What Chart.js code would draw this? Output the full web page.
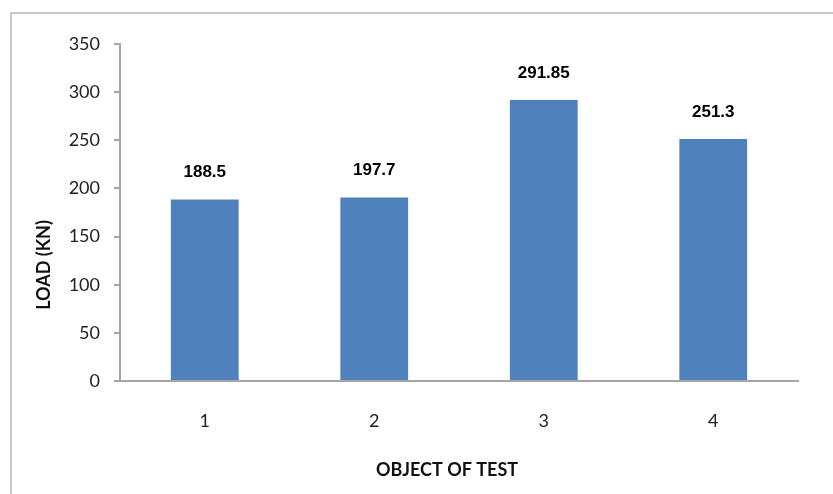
<!DOCTYPE html>
<html>
<head>
<meta charset="utf-8">
<script src="https://cdn.jsdelivr.net/npm/chart.js@4/dist/chart.umd.min.js"></script>
<style>
  html, body { margin: 0; padding: 0; background: #fff; overflow: hidden; }
  #wrap { position: relative; width: 833px; height: 494px; }
  #frame { position: absolute; left: 10px; top: 12px; width: 900px; height: 600px;
           border-left: 2px solid #c8c8c8; border-top: 2px solid #c8c8c8; }
  canvas { position: absolute; left: 0; top: 0; }
</style>
</head>
<body>
<div id="wrap">
  <div id="frame"></div>
  <canvas id="c" width="833" height="494"></canvas>
</div>
<script>
const categories = ["1", "2", "3", "4"];
const loadValues = [188.5, 190.5, 291.85, 251.3];
const valueLabels = ["188.5", "197.7", "291.85", "251.3"];
const yTicks = [0, 50, 100, 150, 200, 250, 300, 350];
const xTitle = "OBJECT OF TEST";
const yTitle = "LOAD (KN)";

const barLabelPlugin = {
  id: 'barLabels',
  afterDatasetsDraw(chart) {
    const ctx = chart.ctx;
    const meta = chart.getDatasetMeta(0);
    ctx.save();
    ctx.font = 'bold 17px "Liberation Sans", Arial, sans-serif';
    ctx.fillStyle = '#000';
    ctx.textAlign = 'center';
    ctx.textBaseline = 'middle';
    meta.data.forEach((bar, i) => {
      ctx.fillText(valueLabels[i], bar.x, bar.y - 27);
    });
    ctx.restore();
  }
};

const axisTitlePlugin = {
  id: 'axisTitles',
  afterDraw(chart) {
    const ctx = chart.ctx;
    ctx.save();
    ctx.fillStyle = '#111';
    ctx.font = 'bold 18px Lato, "Open Sans", sans-serif';
    ctx.textAlign = 'center';
    ctx.textBaseline = 'middle';
    ctx.fillText(xTitle, 447, 470);
    ctx.translate(44, 265);
    ctx.rotate(-Math.PI / 2);
    ctx.fillText(yTitle, 0, 0);
    ctx.restore();
  }
};

new Chart(document.getElementById('c'), {
  type: 'bar',
  data: {
    labels: categories,
    datasets: [{
      data: loadValues,
      backgroundColor: '#4f81bd',
      borderWidth: 0,
      categoryPercentage: 1.0,
      barPercentage: 0.4
    }]
  },
  options: {
    responsive: false,
    animation: false,
    devicePixelRatio: 1,
    layout: { padding: { top: 44, right: 35, left: 0, bottom: 0 } },
    plugins: { legend: { display: false }, tooltip: { enabled: false } },
    scales: {
      x: {
        grid: { display: true, drawOnChartArea: false, drawTicks: false },
        border: { display: true, color: '#a6a6a6', width: 2 },
        ticks: { color: '#222', font: { family: 'Lato', size: 18 }, padding: 29 },
        afterFit(scale) { scale.height = 113; }
      },
      y: {
        min: 0, max: 350,
        afterBuildTicks(scale) { scale.ticks = yTicks.map(v => ({ value: v })); },
        grid: { display: true, drawOnChartArea: false, drawTicks: true, tickLength: 6, color: '#a6a6a6', lineWidth: 2 },
        border: { display: true, color: '#a6a6a6', width: 2 },
        ticks: { color: '#222', font: { family: 'Lato', size: 18 }, padding: 14 },
        afterFit(scale) { scale.width = 120; }
      }
    }
  },
  plugins: [barLabelPlugin, axisTitlePlugin]
});
</script>
</body>
</html>
